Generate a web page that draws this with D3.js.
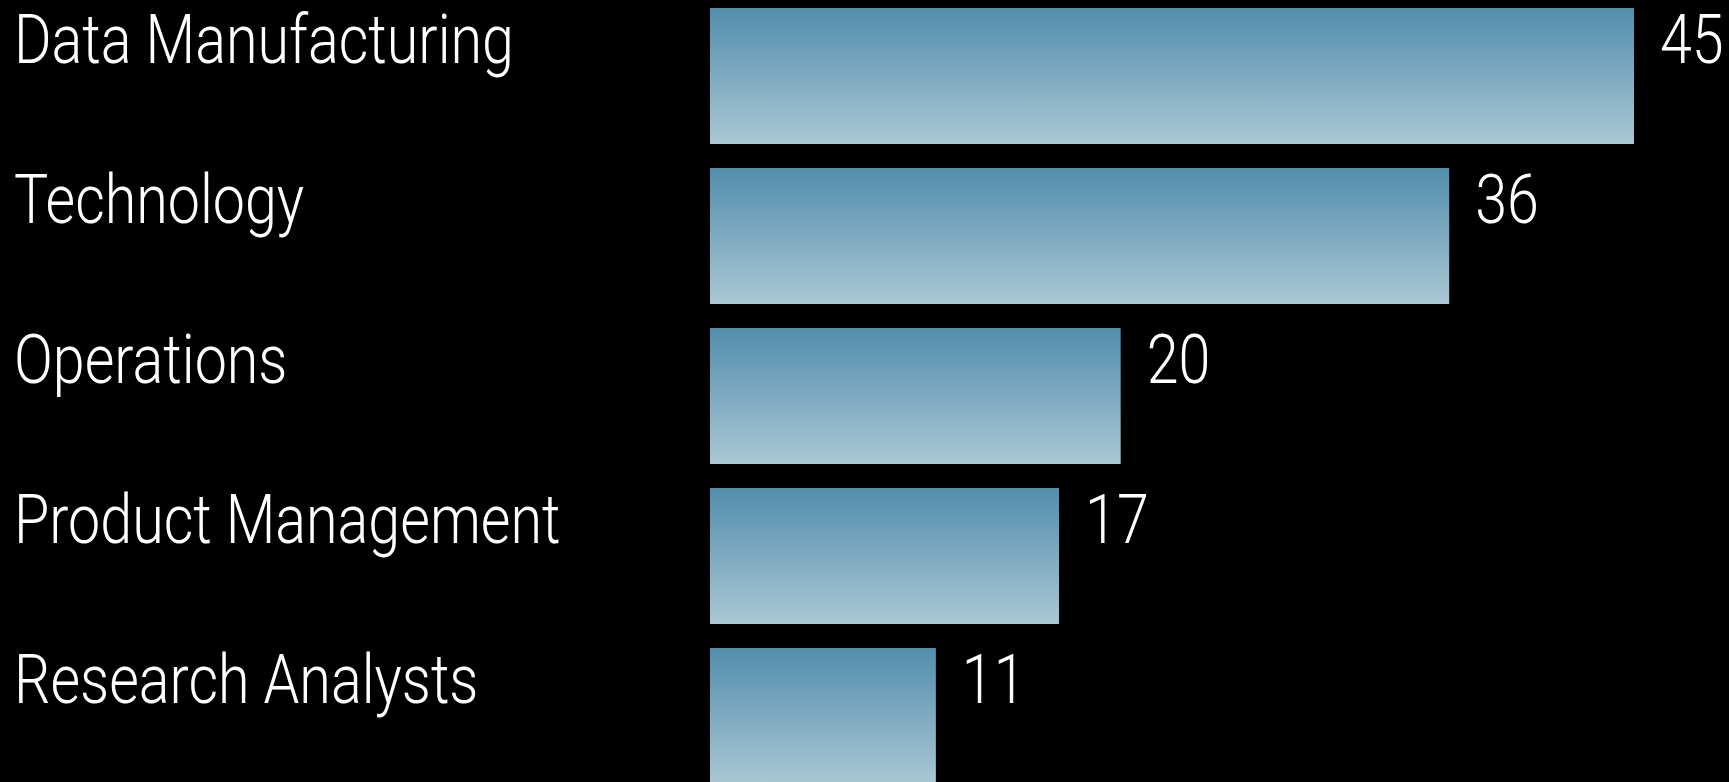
<!DOCTYPE html>
<html>
<head>
<meta charset="utf-8">
<script src="https://cdn.jsdelivr.net/npm/d3@7"></script>
<style>
  html, body { margin: 0; padding: 0; background: #000; overflow: hidden; }
  svg { display: block; }
  text { font-family: Roboto, "Liberation Sans Narrow", sans-serif; font-weight: 300; fill: #fff; }
</style>
</head>
<body>
<svg id="chart"></svg>
<script>
// Headcount by team
const categories = ["Data Manufacturing", "Technology", "Operations", "Product Management", "Research Analysts"];
const values = [45, 36, 20, 17, 11];

const width = 1729, height = 782;
const svg = d3.select("#chart").attr("width", width).attr("height", height);

svg.append("rect").attr("width", width).attr("height", height).attr("fill", "#000");

const defs = svg.append("defs");
const grad = defs.append("linearGradient")
  .attr("id", "barFill")
  .attr("x1", 0).attr("y1", 0).attr("x2", 0).attr("y2", 1);
grad.append("stop").attr("offset", "0%").attr("stop-color", "#528ead");
grad.append("stop").attr("offset", "100%").attr("stop-color", "#aac7d4");

const x = d3.scaleLinear().domain([0, 45]).range([710, 1634]);
const y = d3.scaleBand().domain(categories).range([8, 784]).paddingInner(0.15).paddingOuter(0);

const rows = categories.map((c, i) => ({ c, v: values[i] }));

svg.selectAll("rect.bar")
  .data(rows)
  .join("rect")
  .attr("class", "bar")
  .attr("x", x(0))
  .attr("y", d => y(d.c))
  .attr("width", d => x(d.v) - x(0))
  .attr("height", y.bandwidth())
  .attr("fill", "url(#barFill)");

const fontSize = 68;
const baseOff = 55;

// condensed look: squeeze the glyphs so the first name spans ~500px
const probe = svg.append("text").attr("font-size", fontSize).text(categories[0]);
const squeeze = 500 / probe.node().getComputedTextLength();
probe.remove();

// category names on the left
svg.selectAll("text.cat")
  .data(rows)
  .join("text")
  .attr("class", "cat")
  .attr("font-size", fontSize)
  .attr("transform", d => `translate(14,${y(d.c) + baseOff}) scale(${squeeze},1)`)
  .text(d => d.c);

// value labels after each bar
svg.selectAll("text.val")
  .data(rows)
  .join("text")
  .attr("class", "val")
  .attr("font-size", fontSize)
  .attr("transform", d => `translate(${x(d.v) + 26},${y(d.c) + baseOff}) scale(${squeeze},1)`)
  .text(d => d.v);
</script>
</body>
</html>
